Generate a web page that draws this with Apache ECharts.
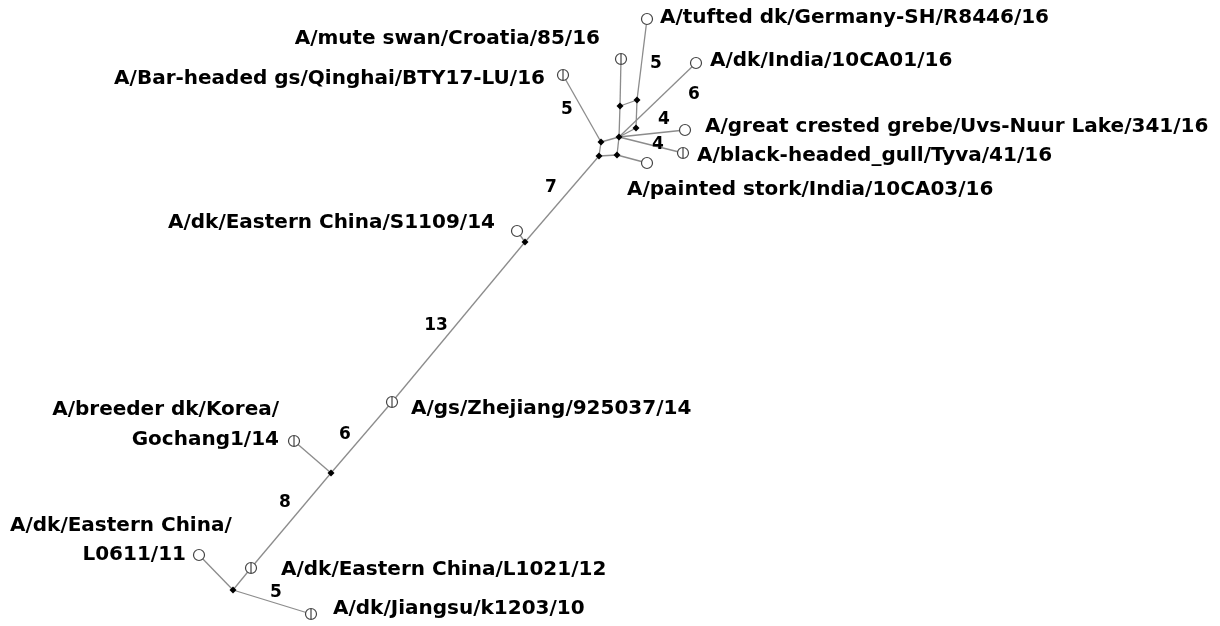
<!DOCTYPE html>
<html>
<head>
<meta charset="utf-8">
<script src="https://cdn.jsdelivr.net/npm/echarts@6/dist/echarts.min.js"></script>
<style>html,body{margin:0;padding:0;background:#fff}#c{width:1220px;height:626px}</style>
</head>
<body>
<div id="c"></div>
<script>
// Network nodes (layout coordinates) and types: o = sampled haplotype, p = haplotype (barred), m = median vector
const nodeNames = ['tufted','muteSwan','india','barHeaded','mvA','mvB','mvC','mvD','mvE','mvF','mvG','grebe','gull','stork','s1109','mvH','zhejiang','mvI','korea','l1021','mvJ','l0611','jiangsu'];
const nodeX = [647,621,696,563,620,637,636,619,601,599,617,685,683,647,517,525,392,331,294,251,233,199,311];
const nodeY = [19,59,63,75,106,100,128,137,142,156,155,130,153,163,231,242,402,473,441,568,590,555,614];
const nodeType = ['o','p','o','p','m','m','m','m','m','m','m','o','p','o','o','m','p','m','p','p','m','o','p'];
const linkPairs = [[0,5],[5,4],[1,4],[5,6],[4,7],[6,7],[7,2],[7,11],[7,12],[7,8],[8,3],[8,9],[9,10],[10,7],[10,13],[9,15],[15,14],[15,16],[16,17],[17,18],[17,19],[19,20],[20,21],[20,22]];

// Strain labels
const labelTexts = ['A/tufted dk/Germany-SH/R8446/16','A/mute swan/Croatia/85/16','A/dk/India/10CA01/16','A/Bar-headed gs/Qinghai/BTY17-LU/16','A/great crested grebe/Uvs-Nuur Lake/341/16','A/black-headed_gull/Tyva/41/16','A/painted stork/India/10CA03/16','A/dk/Eastern China/S1109/14','A/gs/Zhejiang/925037/14','A/breeder dk/Korea/','Gochang1/14','A/dk/Eastern China/','L0611/11','A/dk/Eastern China/L1021/12','A/dk/Jiangsu/k1203/10'];
const labelX = [660,600,710,545,705,697,627,168,411,279,279,10,186,281,333];
const labelY = [18,39,61,79,127,156,190,223,409,410,440,526,555,570,609];
const labelAlign = ['left','right','left','right','left','left','left','left','left','right','right','left','right','left','left'];

// Mutation counts on branches
const stepTexts = ['5','5','6','4','4','7','13','6','8','5'];
const stepX = [567,656,694,664,658,551,436,345,285,276];
const stepY = [110,64,95,120,145,188,326,435,503,593];

const PHI = 'path://M0,-10A10,10,0,1,1,0,10A10,10,0,1,1,0,-10ZM0,-10L0,10';
const symbolFor = {o:'circle', p:PHI, m:'diamond'};
const sizeFor = {o:11, p:11, m:7};
const styleFor = {
  o:{color:'#fff',borderColor:'#444',borderWidth:1.2},
  p:{color:'#fff',borderColor:'#444',borderWidth:1.2},
  m:{color:'#000',borderColor:'#000',borderWidth:0}
};

const nodes = nodeNames.map((n,i)=>({
  name:n, value:[nodeX[i],nodeY[i]],
  symbol:symbolFor[nodeType[i]], symbolSize:sizeFor[nodeType[i]],
  itemStyle:styleFor[nodeType[i]]
}));
const links = linkPairs.map(p=>({source:p[0],target:p[1]}));

const labelData = labelTexts.map((t,i)=>({
  value:[labelX[i],labelY[i]], name:t,
  label:{align:labelAlign[i]}
}));
const stepData = stepTexts.map((t,i)=>({value:[stepX[i],stepY[i]], name:t}));

const chart = echarts.init(document.getElementById('c'));
chart.setOption({
  animation:false,
  backgroundColor:'#fff',
  grid:{left:0,right:0,top:0,bottom:0},
  xAxis:{type:'value',min:0,max:1220,show:false},
  yAxis:{type:'value',min:0,max:626,inverse:true,show:false},
  series:[
    {
      type:'graph', coordinateSystem:'cartesian2d', z:2,
      data:nodes, links:links,
      lineStyle:{color:'#8c8c8c',width:1.3,opacity:1,curveness:0},
      label:{show:false}, emphasis:{disabled:true}
    },
    {
      type:'scatter', z:3, symbolSize:0, data:labelData,
      itemStyle:{opacity:1},
      label:{show:true,position:[0,0],formatter:p=>p.name,verticalAlign:'middle',
        fontFamily:'DejaVu Sans',fontWeight:'bold',fontSize:20,color:'#000'},
      emphasis:{disabled:true}, silent:true
    },
    {
      type:'scatter', z:3, symbolSize:0, data:stepData,
      itemStyle:{opacity:1},
      label:{show:true,position:[0,0],formatter:p=>p.name,align:'center',verticalAlign:'middle',
        fontFamily:'DejaVu Sans',fontWeight:'bold',fontSize:17,color:'#000'},
      emphasis:{disabled:true}, silent:true
    }
  ]
});
</script>
</body>
</html>
